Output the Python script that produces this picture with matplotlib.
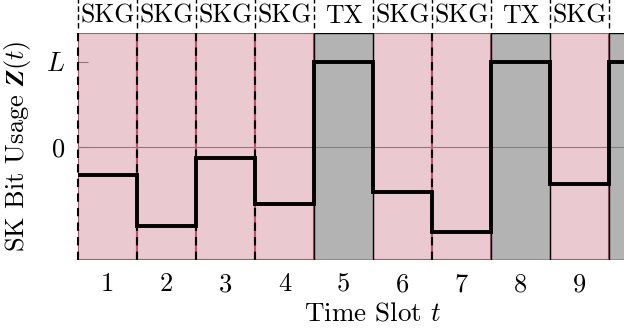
import matplotlib.pyplot as plt
import matplotlib.transforms as mtransforms

plt.rcParams['font.family'] = 'serif'
plt.rcParams['font.serif'] = ['cmr10']
plt.rcParams['mathtext.fontset'] = 'cm'
plt.rcParams['axes.formatter.use_mathtext'] = True

# data (L = 1)
slots = [1, 2, 3, 4, 5, 6, 7, 8, 9, 10]
phases = ['SKG', 'SKG', 'SKG', 'SKG', 'TX', 'SKG', 'SKG', 'TX', 'SKG', 'TX']
usage = [-0.33, -0.93, -0.13, -0.67, 1.0, -0.53, -1.0, 1.0, -0.44, 1.0]
xticklabels = ['1', '2', '3', '4', '5', '6', '7', '8', '9']
yticks = [0, 1]
yticklabels = ['0', '$L$']

pink = '#ebc9d0'
red = '#c0506a'
grey = '#b3b3b3'

fig = plt.figure(figsize=(6.24, 3.28), dpi=100)
ax = fig.add_axes([78 / 624, 68 / 328, 590 / 624, 227 / 328])
ymin, ymax = -1.33, 1.34
ax.set_xlim(0, 10)
ax.set_ylim(ymin, ymax)

trans = mtransforms.blended_transform_factory(ax.transData, ax.transAxes)

# slot backgrounds (grey TX slots drawn over the pink ones)
for i, ph in enumerate(phases):
    if ph == 'TX':
        ax.axvspan(i, i + 1, facecolor=grey, edgecolor='black', lw=1.0, zorder=1.5)
    else:
        ax.axvspan(i, i + 1, facecolor=pink, edgecolor=red, lw=1.5, zorder=1)

# dashed separators between SKG slots
for i, ph in enumerate(phases):
    prev = phases[i - 1] if i > 0 else 'SKG'
    if ph == 'SKG' and prev == 'SKG':
        ax.plot([i, i], [0, 1], transform=trans, color='black', lw=1.5,
                ls=(0, (4, 3)), zorder=2, clip_on=False)

# top phase labels (the last slot is cut off at the figure edge)
for i, ph in enumerate(phases):
    if i < 9:
        ax.text(i + 0.5, 1.075, ph, transform=trans, ha='center', va='center',
                fontsize=18.5, clip_on=False)
    ax.plot([i, i], [1.02, 1.15], transform=trans, color='black', lw=1.0,
            ls=(0, (4, 2)), clip_on=False)

ax.axhline(0, color='grey', lw=0.8, zorder=2)

# step line
xs = []
ys = []
for i, v in enumerate(usage):
    xs += [i, i + 1]
    ys += [v, v]
ax.plot(xs, ys, color='black', lw=2.8, zorder=3, solid_joinstyle='miter')

for s in ax.spines.values():
    s.set_visible(False)

ax.set_xticks([s - 0.5 for s in slots[:9]])
ax.set_xticklabels(xticklabels, fontsize=19)
ax.tick_params(axis='x', length=0, pad=9)
ax.set_yticks(yticks)
ax.set_yticklabels(yticklabels, fontsize=19)
ax.tick_params(axis='y', direction='in', length=7, color='grey', width=0.8, pad=9)

ax.set_xlabel('Time Slot $t$', fontsize=19.5, labelpad=4)
ax.set_ylabel(r'SK Bit Usage $\mathbfit{Z}(t)$', fontsize=19, labelpad=10)

fig.savefig('out.png', dpi=100)
